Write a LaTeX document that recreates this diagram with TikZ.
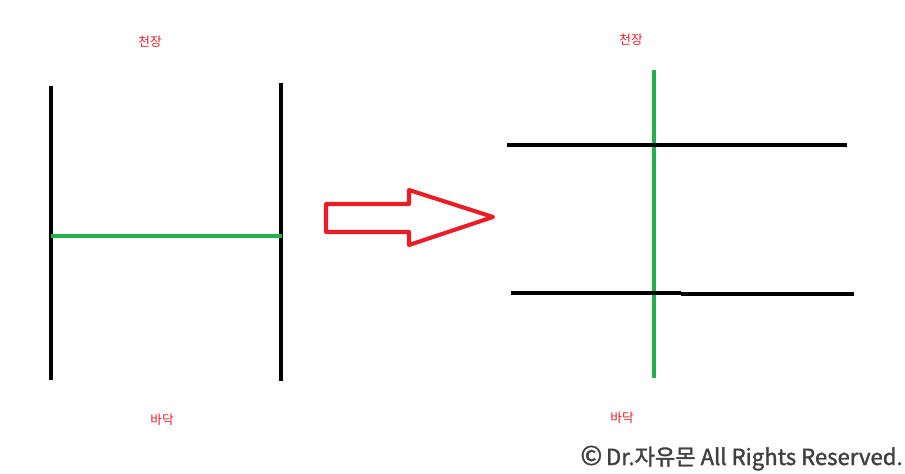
\documentclass[tikz,border=0pt]{standalone}
\usepackage{fontspec}
\newfontfamily\krfont{Noto Sans CJK KR}
\newfontfamily\markfont[FakeBold=1.6]{Noto Sans CJK KR}
\usetikzlibrary{positioning}
\definecolor{pgreen}{HTML}{22B14C}
\definecolor{pred}{HTML}{ED1C24}
\tikzset{
  beam/.style={line width=2.8pt,black},
  post/.style={line width=2.6pt,pgreen},
  tag/.style={pred,font=\krfont\fontsize{7.2}{8}\selectfont,inner sep=0pt}
}

\begin{document}
\begin{tikzpicture}[x=0.02cm,y=-0.02cm]
    \useasboundingbox (0,0) rectangle (905,473);
    % left: two walls, green brace between them
    \draw[beam] (51,86)--(51,380);
    \draw[beam] (281,83)--(281,381);
    \draw[post] (51,236)--(282,236);
    \node[tag] (ceilL) at (150,42) {천장};
    \node[tag] (floorL) at (162,420) {바닥};
    % arrow
    \draw[pred,line width=2.3pt,line join=round]
        (326,204)--(409,204)--(409,190)--(493,217)--(409,245)--(409,232)--(326,232)--cycle;
    % right: green post, black beams over it
    \draw[post] (654,70)--(654,378);
    \draw[beam] (507,145)--(847,145);
    \draw[beam] (511,293)--(681,293);
    \draw[beam] (681,294)--(854,294);
    \node[tag] (ceilR) at (631,40) {천장};
    \node[tag] (floorR) at (622,418) {바닥};
    \node[anchor=base east,inner sep=0pt,text=black!75,
          font=\markfont\fontsize{12.6}{14}\selectfont] (copy) at (903,465)
          {{\fontsize{15}{14}\selectfont ©}\,Dr.자유몬 All Rights Reserved.};
\end{tikzpicture}
\end{document}
